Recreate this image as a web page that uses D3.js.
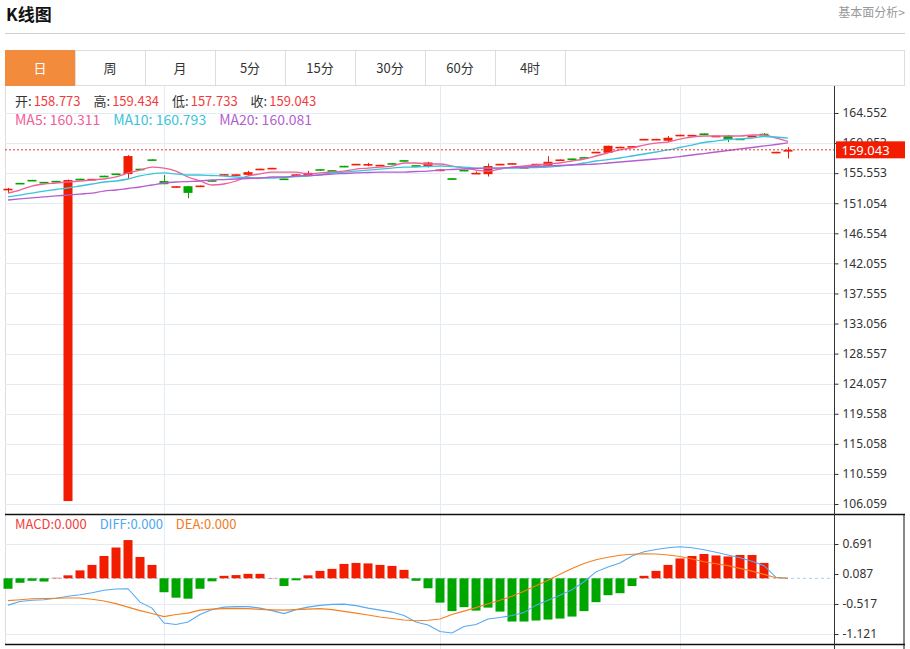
<!DOCTYPE html>
<html>
<head>
<meta charset="utf-8">
<script src="https://cdn.jsdelivr.net/npm/d3@7"></script>
<style>
    body { margin: 0; background: #fff; }
    text { font-family: "Noto Sans CJK SC", "Noto Sans", sans-serif; }
</style>
</head>
<body>
<div id="chart"></div>
<script>
// Tabs across the top of the chart
var tabs = ["日", "周", "月", "5分", "15分", "30分", "60分", "4时"];

// Daily candles (oldest first)
var opens = [153.10, 154.10, 154.55, 154.25, 154.40, 106.50, 154.72, 154.62, 155.17, 155.50,
    155.42, 156.22, 157.62, 154.37, 153.40, 153.60, 153.55, 154.50, 155.20, 155.22,
    155.30, 156.02, 156.18, 154.75, 155.25, 155.10, 156.15, 156.00, 156.65, 156.78,
    156.75, 156.65, 157.05, 157.50, 156.75, 156.50, 155.85, 154.80, 156.05, 155.45,
    155.40, 156.75, 156.90, 156.30, 156.80, 156.65, 157.45, 157.75, 157.95, 158.55,
    158.60, 159.30, 159.45, 160.50, 160.50, 160.40, 161.12, 161.12, 161.50, 160.95,
    161.15, 160.72, 160.95, 161.45, 158.55, 158.773];
var closes = [153.22, 154.00, 154.45, 154.15, 154.30, 154.52, 154.62, 154.70, 155.05, 155.37,
    158.11, 156.10, 157.48, 153.90, 153.60, 152.60, 153.70, 154.30, 155.40, 155.38,
    155.70, 156.22, 156.35, 154.55, 155.38, 155.60, 155.95, 155.85, 156.45, 156.95,
    156.92, 156.80, 156.90, 157.30, 156.65, 157.15, 156.10, 154.55, 155.85, 155.60,
    156.62, 156.95, 157.05, 156.45, 156.95, 157.25, 157.60, 157.55, 157.75, 158.75,
    159.65, 159.50, 159.60, 160.68, 160.68, 160.85, 161.30, 161.28, 161.28, 161.15,
    160.62, 160.52, 161.15, 161.25, 158.75, 159.043];
var highs = [153.35, 154.10, 154.55, 154.25, 154.40, 154.60, 154.72, 154.70, 155.17, 155.50,
    158.25, 156.22, 157.62, 155.27, 153.60, 153.65, 153.70, 154.50, 155.40, 155.38,
    155.90, 156.22, 156.35, 154.75, 155.38, 155.90, 156.15, 156.00, 156.65, 156.95,
    157.10, 156.80, 157.05, 157.50, 156.75, 157.25, 156.10, 154.80, 156.05, 155.80,
    157.00, 156.95, 157.05, 156.45, 156.95, 158.10, 157.60, 157.75, 157.95, 158.75,
    159.65, 159.50, 159.60, 160.68, 160.68, 161.10, 161.30, 161.28, 161.50, 161.15,
    161.25, 160.72, 161.15, 161.55, 158.75, 159.434];
var lows = [152.60, 154.00, 154.45, 154.15, 154.30, 106.50, 154.62, 154.62, 155.05, 155.37,
    154.82, 156.10, 157.48, 153.90, 153.40, 151.80, 153.55, 154.30, 155.20, 155.22,
    155.20, 156.02, 156.18, 154.55, 155.25, 155.10, 155.95, 155.85, 156.45, 156.78,
    156.60, 156.65, 156.90, 157.30, 156.65, 156.40, 155.85, 154.55, 155.85, 155.45,
    155.05, 156.75, 156.90, 156.30, 156.80, 156.65, 157.45, 157.55, 157.75, 158.55,
    158.60, 159.30, 159.45, 160.50, 160.50, 160.20, 161.12, 161.12, 161.28, 160.95,
    160.20, 160.52, 160.95, 161.25, 158.55, 157.733];

// Moving averages as drawn
var ma5 = [152.58, 153.03, 153.63, 153.93, 154.08, 154.23, 154.38, 154.53, 154.68, 154.98,
    155.58, 156.02, 156.47, 156.32, 155.87, 154.98, 154.38, 153.78, 153.93, 154.38,
    155.13, 155.43, 155.72, 155.72, 155.72, 155.43, 155.58, 155.72, 155.87, 156.17,
    156.32, 156.47, 156.62, 157.07, 157.07, 156.92, 156.92, 156.62, 156.32, 156.02,
    155.87, 156.17, 156.47, 156.62, 156.77, 156.92, 157.07, 157.37, 157.67, 158.12,
    158.57, 159.02, 159.32, 159.76, 160.06, 160.21, 160.66, 160.96, 161.11, 161.11,
    161.11, 161.11, 161.26, 161.26, 160.81, 160.311];
var ma10 = [151.99, 152.28, 152.58, 152.88, 153.11, 153.33, 153.63, 153.93, 154.23, 154.38,
    154.68, 155.13, 155.43, 155.58, 155.43, 155.28, 155.28, 155.20, 155.13, 154.98,
    154.90, 154.83, 154.83, 154.90, 155.05, 155.13, 155.28, 155.58, 155.72, 155.87,
    156.02, 156.17, 156.32, 156.47, 156.47, 156.55, 156.62, 156.55, 156.47, 156.32,
    156.32, 156.32, 156.32, 156.32, 156.40, 156.47, 156.62, 156.77, 157.07, 157.37,
    157.59, 157.82, 158.12, 158.42, 158.72, 159.02, 159.39, 159.76, 160.14, 160.36,
    160.59, 160.66, 160.81, 161.04, 160.96, 160.793];
var ma20 = [151.54, 151.69, 151.84, 151.99, 152.14, 152.28, 152.43, 152.58, 152.88, 153.03,
    153.26, 153.48, 153.78, 154.08, 154.23, 154.30, 154.38, 154.53, 154.60, 154.68,
    154.75, 154.83, 154.98, 154.98, 155.13, 155.20, 155.28, 155.43, 155.50, 155.58,
    155.65, 155.72, 155.72, 155.72, 155.80, 155.87, 156.02, 156.10, 156.17, 156.25,
    156.32, 156.32, 156.40, 156.47, 156.55, 156.62, 156.70, 156.77, 156.85, 156.92,
    157.07, 157.22, 157.37, 157.52, 157.67, 157.82, 158.04, 158.27, 158.49, 158.72,
    158.94, 159.17, 159.39, 159.62, 159.84, 160.081];

// MACD panel
var macdHist = [-0.21, -0.09, -0.05, -0.065, 0.01, 0.06, 0.16, 0.27, 0.45, 0.62,
    0.77, 0.43, 0.27, -0.28, -0.39, -0.41, -0.21, -0.06, 0.05, 0.065,
    0.09, 0.09, 0.005, -0.155, -0.04, 0.06, 0.15, 0.19, 0.29, 0.31,
    0.30, 0.27, 0.25, 0.17, -0.05, -0.20, -0.49, -0.66, -0.58, -0.65,
    -0.59, -0.67, -0.87, -0.87, -0.85, -0.83, -0.81, -0.77, -0.66, -0.48,
    -0.34, -0.30, -0.155, 0.05, 0.15, 0.27, 0.40, 0.45, 0.49, 0.46,
    0.44, 0.47, 0.47, 0.31, 0, 0];
var diff = [-0.54, -0.465, -0.44, -0.43, -0.40, -0.36, -0.33, -0.29, -0.24, -0.215,
    -0.21, -0.48, -0.60, -0.90, -0.93, -0.88, -0.73, -0.63, -0.58, -0.57,
    -0.57, -0.60, -0.65, -0.71, -0.63, -0.58, -0.545, -0.525, -0.52, -0.55,
    -0.60, -0.64, -0.68, -0.75, -0.88, -0.94, -1.07, -1.10, -0.97, -0.93,
    -0.82, -0.79, -0.75, -0.69, -0.54, -0.44, -0.34, -0.23, -0.07, 0.13,
    0.23, 0.31, 0.45, 0.535, 0.58, 0.615, 0.635, 0.615, 0.575, 0.525,
    0.47, 0.415, 0.345, 0.255, 0.02, 0];
var dea = [-0.45, -0.43, -0.41, -0.405, -0.40, -0.395, -0.395, -0.42, -0.455, -0.51,
    -0.58, -0.65, -0.71, -0.77, -0.73, -0.70, -0.64, -0.62, -0.61, -0.605,
    -0.61, -0.625, -0.635, -0.64, -0.63, -0.62, -0.61, -0.63, -0.665, -0.70,
    -0.74, -0.78, -0.81, -0.84, -0.855, -0.845, -0.82, -0.73, -0.66, -0.59,
    -0.51, -0.44, -0.36, -0.26, -0.15, -0.04, 0.08, 0.20, 0.30, 0.375,
    0.425, 0.465, 0.485, 0.495, 0.49, 0.47, 0.44, 0.39, 0.335, 0.295,
    0.255, 0.20, 0.145, 0.08, 0.01, 0];

// Candles where a new month starts (vertical grid lines)
var monthStarts = [13, 36, 56];

// Axis tick labels
var priceTicks = ["106.059", "110.559", "115.058", "119.558", "124.057", "128.557", "133.056",
    "137.555", "142.055", "146.554", "151.054", "155.553", "160.053", "164.552"];
var macdTicks = ["-1.121", "-0.517", "0.087", "0.691"];

var lastPrice = 159.043;

var width = 910, height = 649,
    left = 5, right = 905,
    axisX = 834.5,
    red = "#f21c00", green = "#00a600", gridColor = "#e2ecf2";

var svg = d3.select("#chart")
    .append("svg")
    .attr("width", width)
    .attr("height", height);

// Header
svg.append("text")
    .attr("x", 6).attr("y", 21)
    .style("font-size", "17px").style("font-weight", "bold").style("fill", "#111")
    .text("K线图");
svg.append("text")
    .attr("x", 905).attr("y", 17)
    .attr("text-anchor", "end")
    .style("font-size", "12px").style("fill", "#999")
    .text("基本面分析>");
svg.append("line")
    .attr("x1", left).attr("x2", right).attr("y1", 33.5).attr("y2", 33.5)
    .style("stroke", "#cfcfcf");

// Tab bar
var tabW = 70, tabTop = 50, tabH = 35;
svg.append("rect")
    .attr("x", left + 0.5).attr("y", tabTop + 0.5)
    .attr("width", right - left - 1).attr("height", tabH)
    .style("fill", "#fff").style("stroke", "#ddd");
var tab = svg.selectAll(".tab")
    .data(tabs)
    .enter()
    .append("g")
    .attr("class", "tab")
    .attr("transform", (d, i) => "translate(" + (left + i * tabW) + "," + tabTop + ")");
tab.append("rect")
    .attr("x", 0.5).attr("y", 0.5)
    .attr("width", tabW).attr("height", tabH)
    .style("fill", (d, i) => i === 0 ? "#f28c3c" : "#fff")
    .style("stroke", (d, i) => i === 0 ? "#f28c3c" : "#ddd");
tab.append("text")
    .attr("x", tabW / 2).attr("y", 23)
    .attr("text-anchor", "middle")
    .style("font-size", "13px")
    .style("fill", (d, i) => i === 0 ? "#fff" : "#333")
    .text(d => d);

// Chart frame
svg.append("line")
    .attr("x1", left + 0.5).attr("x2", left + 0.5).attr("y1", 86).attr("y2", 645)
    .style("stroke", "#ddd");

// Scales
var idx = d3.range(opens.length);
var x = d3.scaleBand()
    .domain(idx)
    .range([2, 2 + idx.length * 12])
    .paddingInner(0.25)
    .paddingOuter(0.125);
var cx = i => x(i) + x.bandwidth() / 2;

var y = d3.scaleLinear()
    .domain([+priceTicks[0], +priceTicks[priceTicks.length - 1]])
    .range([504, 113]);

var ym = d3.scaleLinear()
    .domain([+macdTicks[0], +macdTicks[macdTicks.length - 1]])
    .range([634, 544]);

// Grid lines
svg.selectAll(".hgrid")
    .data(priceTicks)
    .enter()
    .append("line")
    .attr("x1", left).attr("x2", axisX)
    .attr("y1", d => Math.round(y(+d)) + 0.5).attr("y2", d => Math.round(y(+d)) + 0.5)
    .style("stroke", gridColor);
svg.selectAll(".mgrid")
    .data(macdTicks.filter(d => d !== "0.087"))
    .enter()
    .append("line")
    .attr("x1", left).attr("x2", axisX)
    .attr("y1", d => Math.round(ym(+d)) + 0.5).attr("y2", d => Math.round(ym(+d)) + 0.5)
    .style("stroke", gridColor);
svg.selectAll(".vgrid")
    .data(monthStarts)
    .enter()
    .append("line")
    .attr("x1", d => Math.round(cx(d)) + 0.5).attr("x2", d => Math.round(cx(d)) + 0.5)
    .attr("y1", 86).attr("y2", 649)
    .style("stroke", gridColor);

// MACD zero line
svg.append("line")
    .attr("x1", left).attr("x2", axisX)
    .attr("y1", ym(0)).attr("y2", ym(0))
    .style("stroke", "#9fd0ec")
    .style("stroke-dasharray", "3,3");

// Candles
var candle = svg.selectAll(".candle")
    .data(idx)
    .enter()
    .append("g")
    .attr("class", "candle");
candle.append("line")
    .attr("x1", i => Math.round(cx(i)) + 0.5).attr("x2", i => Math.round(cx(i)) + 0.5)
    .attr("y1", i => y(highs[i])).attr("y2", i => y(lows[i]))
    .style("stroke", i => closes[i] >= opens[i] ? red : green);
candle.append("rect")
    .attr("x", i => x(i))
    .attr("width", x.bandwidth())
    .attr("y", i => Math.min(y(opens[i]), y(closes[i])))
    .attr("height", i => Math.max(Math.abs(y(opens[i]) - y(closes[i])), 1.6))
    .style("fill", i => closes[i] >= opens[i] ? red : green);

// Moving average lines
var maLine = arr => d3.line().x((d, i) => cx(i)).y(d => y(d)).curve(d3.curveMonotoneX)(arr);
[[ma5, "#ef6097"], [ma10, "#3cc3dc"], [ma20, "#b45fd0"]].forEach(function (m) {
    svg.append("path")
        .attr("d", maLine(m[0]))
        .style("fill", "none")
        .style("stroke", m[1])
        .style("stroke-width", 1.3);
});

// Current price dotted line
svg.append("line")
    .attr("x1", left).attr("x2", axisX)
    .attr("y1", y(lastPrice)).attr("y2", y(lastPrice))
    .style("stroke", "#f23030")
    .style("stroke-dasharray", "2,2");

// MACD histogram
svg.selectAll(".hist")
    .data(idx)
    .enter()
    .append("rect")
    .attr("x", i => x(i))
    .attr("width", x.bandwidth())
    .attr("y", i => Math.min(ym(0), ym(macdHist[i])))
    .attr("height", i => Math.abs(ym(macdHist[i]) - ym(0)))
    .style("fill", i => macdHist[i] >= 0 ? red : green);

// DIFF and DEA lines
var macdLine = arr => d3.line().x((d, i) => cx(i)).y(d => ym(d))(arr);
[[diff, "#56a9f2"], [dea, "#f5801e"]].forEach(function (m) {
    svg.append("path")
        .attr("d", macdLine(m[0]))
        .style("fill", "none")
        .style("stroke", m[1])
        .style("stroke-width", 1.1);
});

// Panel separators
svg.append("line")
    .attr("x1", left).attr("x2", right).attr("y1", 514.5).attr("y2", 514.5)
    .style("stroke", "#111").style("stroke-width", 1.3);
svg.append("line")
    .attr("x1", left).attr("x2", right).attr("y1", 644.5).attr("y2", 644.5)
    .style("stroke", "#111").style("stroke-width", 1.3);
svg.append("line")
    .attr("x1", right - 1).attr("x2", right - 1).attr("y1", 514).attr("y2", 649)
    .style("stroke", "#111");

// Right axes
var priceAxis = d3.axisRight(y)
    .tickValues(priceTicks.map(Number))
    .tickFormat((d, i) => priceTicks[i])
    .tickSize(4)
    .tickPadding(4);
var ga = svg.append("g")
    .attr("transform", "translate(" + axisX + ",0)")
    .call(priceAxis);
var macdAxis = d3.axisRight(ym)
    .tickValues(macdTicks.map(Number))
    .tickFormat((d, i) => macdTicks[i])
    .tickSize(4)
    .tickPadding(4);
var gm = svg.append("g")
    .attr("transform", "translate(" + axisX + ",0)")
    .call(macdAxis);
[ga, gm].forEach(function (g) {
    g.select(".domain").remove();
    g.selectAll("line").style("stroke", "#333");
    g.selectAll("text")
        .style("font-family", "'Noto Sans', sans-serif")
        .style("font-size", "12px")
        .style("fill", "#333");
});
svg.append("line")
    .attr("x1", axisX).attr("x2", axisX).attr("y1", 86).attr("y2", 649)
    .style("stroke", "#333");

// Current price label (covers the 160.053 tick label, as in the original)
svg.append("rect")
    .attr("x", axisX + 1.5).attr("y", y(lastPrice) - 8.5)
    .attr("width", right - axisX - 1.5).attr("height", 17)
    .style("fill", red);
svg.append("text")
    .attr("x", axisX + 7).attr("y", y(lastPrice) + 5)
    .style("font-family", "'Noto Sans', sans-serif")
    .style("font-size", "13px")
    .style("fill", "#fff")
    .text(lastPrice.toFixed(3));

// Legends
function legend(yPos, items, size) {
    var t = svg.append("text")
        .attr("x", 15).attr("y", yPos)
        .style("font-size", size + "px");
    items.forEach(function (it, k) {
        t.append("tspan")
            .attr("dx", k > 0 ? (it.gap ? 13 : 2) : 0)
            .style("fill", it.color)
            .text(it.text);
    });
}
var last = opens.length - 1;
legend(106, [
    { text: "开:", color: "#333" }, { text: opens[last].toFixed(3), color: "#f23c3c" },
    { text: "高:", color: "#333", gap: true }, { text: highs[last].toFixed(3), color: "#f23c3c" },
    { text: "低:", color: "#333", gap: true }, { text: lows[last].toFixed(3), color: "#f23c3c" },
    { text: "收:", color: "#333", gap: true }, { text: closes[last].toFixed(3), color: "#f23c3c" }
], 13);
legend(125, [
    { text: "MA5: " + ma5[last].toFixed(3), color: "#ef6097" },
    { text: "MA10: " + ma10[last].toFixed(3), color: "#3cc3dc", gap: true },
    { text: "MA20: " + ma20[last].toFixed(3), color: "#b45fd0", gap: true }
], 14);
legend(529, [
    { text: "MACD:" + macdHist[last].toFixed(3), color: "#f23c3c" },
    { text: "DIFF:" + diff[last].toFixed(3), color: "#4ea6f0", gap: true },
    { text: "DEA:" + dea[last].toFixed(3), color: "#f27a1e", gap: true }
], 13);
</script>
</body>
</html>
